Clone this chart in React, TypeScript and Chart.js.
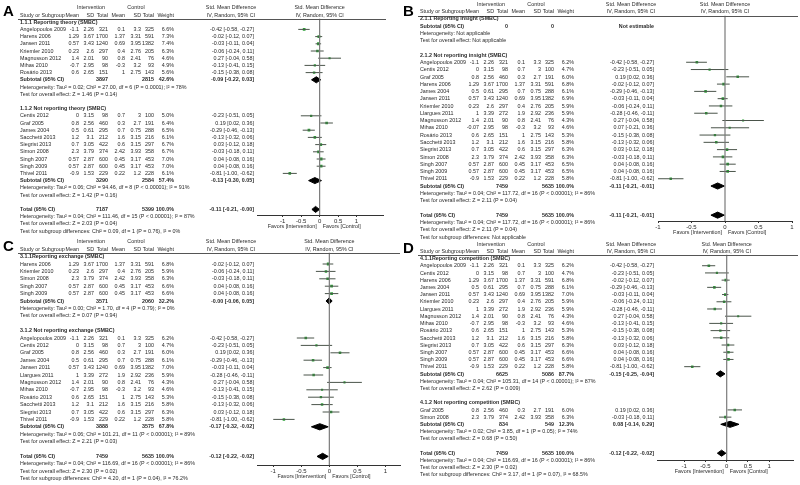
import React, { useEffect, useRef } from "react";
import { Chart, registerables } from "chart.js";
Chart.register(...registerables);

// name, meanI, sdI, totalI, meanC, sdC, totalC, weight, SMD, lower, upper
type Study = [string, string, string, string, string, string, string, string, number, number, number];
// totalI, totalC, weight, SMD, lower, upper
type Summary = [string, string, string, number | null, number | null, number | null];

// ---------------- Panel A : theory ----------------
const A_G1_TITLE = "1.1.1 Reporting theory (SMBC)";
const A_G1: Study[] = [
  ["Angelopoulos 2009", "-1.1", "2.26", "321", "0.1", "3.3", "325", "6.6%", -0.42, -0.58, -0.27],
  ["Harens 2006", "1.29", "3.67", "1700", "1.37", "3.31", "591", "7.3%", -0.02, -0.12, 0.07],
  ["Jansen 2011", "0.57", "3.43", "1240", "0.69", "3.95", "1382", "7.4%", -0.03, -0.11, 0.04],
  ["Kriemler 2010", "0.23", "2.6", "297", "0.4", "2.76", "205", "6.3%", -0.06, -0.24, 0.11],
  ["Magnusson 2012", "1.4", "2.01", "90", "0.8", "2.41", "76", "4.6%", 0.27, -0.04, 0.58],
  ["Mihas 2010", "-0.7", "2.95", "98", "-0.3", "3.2", "93", "4.9%", -0.13, -0.41, 0.15],
  ["Rosário 2013", "0.6", "2.65", "151", "1", "2.75", "143", "5.6%", -0.15, -0.38, 0.08],
];
const A_G1_SUB: Summary = ["3897", "2815", "42.6%", -0.09, -0.22, 0.03];
const A_G1_HET = "Heterogeneity: Tau² = 0.02; Chi² = 27.00, df = 6 (P = 0.0001); I² = 78%";
const A_G1_TEST = "Test for overall effect: Z = 1.46 (P = 0.14)";
const A_G2_TITLE = "1.1.2 Not reporting theory (SMBC)";
const A_G2: Study[] = [
  ["Centis 2012", "0", "3.15", "98", "0.7", "3", "100", "5.0%", -0.23, -0.51, 0.05],
  ["Graf 2005", "0.8", "2.56", "460", "0.3", "2.7", "191", "6.4%", 0.19, 0.02, 0.36],
  ["James 2004", "0.5", "0.61", "295", "0.7", "0.75", "288", "6.5%", -0.29, -0.46, -0.13],
  ["Sacchetti 2013", "1.2", "3.1", "212", "1.6", "3.15", "216", "6.1%", -0.13, -0.32, 0.06],
  ["Siegrist 2013", "0.7", "3.05", "422", "0.6", "3.15", "297", "6.7%", 0.03, -0.12, 0.18],
  ["Simon 2008", "2.3", "3.79", "374", "2.42", "3.93", "358", "6.7%", -0.03, -0.18, 0.11],
  ["Singh 2007", "0.57", "2.87", "600", "0.45", "3.17", "453", "7.0%", 0.04, -0.08, 0.16],
  ["Singh 2009", "0.57", "2.87", "600", "0.45", "3.17", "453", "7.0%", 0.04, -0.08, 0.16],
  ["Thivel 2011", "-0.9", "1.53", "229", "0.22", "1.2", "228", "6.1%", -0.81, -1.0, -0.62],
];
const A_G2_SUB: Summary = ["3290", "2584", "57.4%", -0.13, -0.3, 0.05];
const A_G2_HET = "Heterogeneity: Tau² = 0.06; Chi² = 94.46, df = 8 (P < 0.00001); I² = 91%";
const A_G2_TEST = "Test for overall effect: Z = 1.42 (P = 0.16)";
const A_TOTAL: Summary = ["7187", "5399", "100.0%", -0.11, -0.21, -0.004];
const A_TOTAL_HET = "Heterogeneity: Tau² = 0.04; Chi² = 111.46, df = 15 (P < 0.00001); I² = 87%";
const A_TOTAL_TEST = "Test for overall effect: Z = 2.03 (P = 0.04)";
const A_SUBGROUP = "Test for subgroup differences: Chi² = 0.09, df = 1 (P = 0.76), I² = 0%";

// ---------------- Panel B : insight ----------------
const B_G1_TITLE = "2.1.1 Reporting insight (SMBC)";
const B_G1: Study[] = [];
const B_G1_SUB: Summary = ["0", "0", "", null, null, null];
const B_G1_HET = "Heterogeneity: Not applicable";
const B_G1_TEST = "Test for overall effect: Not applicable";
const B_G2_TITLE = "2.1.2 Not reporting insight (SMBC)";
const B_G2: Study[] = [
  ["Angelopoulos 2009", "-1.1", "2.26", "321", "0.1", "3.3", "325", "6.2%", -0.42, -0.58, -0.27],
  ["Centis 2012", "0", "3.15", "98", "0.7", "3", "100", "4.7%", -0.23, -0.51, 0.05],
  ["Graf 2005", "0.8", "2.56", "460", "0.3", "2.7", "191", "6.0%", 0.19, 0.02, 0.36],
  ["Harens 2006", "1.29", "3.67", "1700", "1.37", "3.31", "591", "6.8%", -0.02, -0.12, 0.07],
  ["James 2004", "0.5", "0.61", "295", "0.7", "0.75", "288", "6.1%", -0.29, -0.46, -0.13],
  ["Jansen 2011", "0.57", "3.43", "1240", "0.69", "3.95", "1382", "6.9%", -0.03, -0.11, 0.04],
  ["Kriemler 2010", "0.23", "2.6", "297", "0.4", "2.76", "205", "5.9%", -0.06, -0.24, 0.11],
  ["Llargues 2011", "1", "3.39", "272", "1.9", "2.92", "236", "5.9%", -0.28, -0.46, -0.11],
  ["Magnusson 2012", "1.4", "2.01", "90", "0.8", "2.41", "76", "4.3%", 0.27, -0.04, 0.58],
  ["Mihas 2010", "-0.07", "2.95", "98", "-0.3", "3.2", "93", "4.6%", 0.07, -0.21, 0.36],
  ["Rosário 2013", "0.6", "2.65", "151", "1", "2.75", "143", "5.3%", -0.15, -0.38, 0.08],
  ["Sacchetti 2013", "1.2", "3.1", "212", "1.6", "3.15", "216", "5.8%", -0.13, -0.32, 0.06],
  ["Siegrist 2013", "0.7", "3.05", "422", "0.6", "3.15", "297", "6.3%", 0.03, -0.12, 0.18],
  ["Simon 2008", "2.3", "3.79", "374", "2.42", "3.93", "358", "6.3%", -0.03, -0.18, 0.11],
  ["Singh 2007", "0.57", "2.87", "600", "0.45", "3.17", "453", "6.5%", 0.04, -0.08, 0.16],
  ["Singh 2009", "0.57", "2.87", "600", "0.45", "3.17", "453", "6.5%", 0.04, -0.08, 0.16],
  ["Thivel 2011", "-0.9", "1.53", "229", "0.22", "1.2", "228", "5.8%", -0.81, -1.0, -0.62],
];
const B_G2_SUB: Summary = ["7459", "5635", "100.0%", -0.11, -0.21, -0.01];
const B_G2_HET = "Heterogeneity: Tau² = 0.04; Chi² = 117.72, df = 16 (P < 0.00001); I² = 86%";
const B_G2_TEST = "Test for overall effect: Z = 2.11 (P = 0.04)";
const B_TOTAL: Summary = ["7459", "5635", "100.0%", -0.11, -0.21, -0.01];
const B_TOTAL_HET = "Heterogeneity: Tau² = 0.04; Chi² = 117.72, df = 16 (P < 0.00001); I² = 86%";
const B_TOTAL_TEST = "Test for overall effect: Z = 2.11 (P = 0.04)";
const B_SUBGROUP = "Test for subgroup differences: Not applicable";

// ---------------- Panel C : exchange ----------------
const C_G1_TITLE = "3.1.1Reporting exchange (SMBC)";
const C_G1: Study[] = [
  ["Harens 2006", "1.29", "3.67", "1700", "1.37", "3.31", "591", "6.8%", -0.02, -0.12, 0.07],
  ["Kriemler 2010", "0.23", "2.6", "297", "0.4", "2.76", "205", "5.9%", -0.06, -0.24, 0.11],
  ["Simon 2008", "2.3", "3.79", "374", "2.42", "3.93", "358", "6.3%", -0.03, -0.18, 0.11],
  ["Singh 2007", "0.57", "2.87", "600", "0.45", "3.17", "453", "6.6%", 0.04, -0.08, 0.16],
  ["Singh 2009", "0.57", "2.87", "600", "0.45", "3.17", "453", "6.6%", 0.04, -0.08, 0.16],
];
const C_G1_SUB: Summary = ["3571", "2060", "32.2%", -0.004, -0.06, 0.05];
const C_G1_HET = "Heterogeneity: Tau² = 0.00; Chi² = 1.70, df = 4 (P = 0.79); I² = 0%";
const C_G1_TEST = "Test for overall effect: Z = 0.07 (P = 0.94)";
const C_G2_TITLE = "3.1.2 Not reporting exchange (SMBC)";
const C_G2: Study[] = [
  ["Angelopoulos 2009", "-1.1", "2.26", "321", "0.1", "3.3", "325", "6.2%", -0.42, -0.58, -0.27],
  ["Centis 2012", "0", "3.15", "98", "0.7", "3", "100", "4.7%", -0.23, -0.51, 0.05],
  ["Graf 2005", "0.8", "2.56", "460", "0.3", "2.7", "191", "6.0%", 0.19, 0.02, 0.36],
  ["James 2004", "0.5", "0.61", "295", "0.7", "0.75", "288", "6.1%", -0.29, -0.46, -0.13],
  ["Jansen 2011", "0.57", "3.43", "1240", "0.69", "3.95", "1382", "7.0%", -0.03, -0.11, 0.04],
  ["Llargues 2011", "1", "3.39", "272", "1.9", "2.92", "236", "5.9%", -0.28, -0.46, -0.11],
  ["Magnusson 2012", "1.4", "2.01", "90", "0.8", "2.41", "76", "4.3%", 0.27, -0.04, 0.58],
  ["Mihas 2010", "-0.7", "2.95", "98", "-0.3", "3.2", "93", "4.6%", -0.13, -0.41, 0.15],
  ["Rosário 2013", "0.6", "2.65", "151", "1", "2.75", "143", "5.3%", -0.15, -0.38, 0.08],
  ["Sacchetti 2013", "1.2", "3.1", "212", "1.6", "3.15", "216", "5.8%", -0.13, -0.32, 0.06],
  ["Siegrist 2013", "0.7", "3.05", "422", "0.6", "3.15", "297", "6.3%", 0.03, -0.12, 0.18],
  ["Thivel 2011", "-0.9", "1.53", "229", "0.22", "1.2", "228", "5.8%", -0.81, -1.0, -0.62],
];
const C_G2_SUB: Summary = ["3888", "3575", "67.8%", -0.17, -0.32, -0.02];
const C_G2_HET = "Heterogeneity: Tau² = 0.06; Chi² = 101.21, df = 11 (P < 0.00001); I² = 89%";
const C_G2_TEST = "Test for overall effect: Z = 2.21 (P = 0.03)";
const C_TOTAL: Summary = ["7459", "5635", "100.0%", -0.12, -0.22, -0.02];
const C_TOTAL_HET = "Heterogeneity: Tau² = 0.04; Chi² = 116.69, df = 16 (P < 0.00001); I² = 86%";
const C_TOTAL_TEST = "Test for overall effect: Z = 2.30 (P = 0.02)";
const C_SUBGROUP = "Test for subgroup differences: Chi² = 4.20, df = 1 (P = 0.04), I² = 76.2%";

// ---------------- Panel D : competition ----------------
const D_G1_TITLE = "4.1.1Reporting competition (SMBC)";
const D_G1: Study[] = [
  ["Angelopoulos 2009", "-1.1", "2.26", "321", "0.1", "3.3", "325", "6.2%", -0.42, -0.58, -0.27],
  ["Centis 2012", "0", "3.15", "98", "0.7", "3", "100", "4.7%", -0.23, -0.51, 0.05],
  ["Harens 2006", "1.29", "3.67", "1700", "1.37", "3.31", "591", "6.8%", -0.02, -0.12, 0.07],
  ["James 2004", "0.5", "0.61", "295", "0.7", "0.75", "288", "6.1%", -0.29, -0.46, -0.13],
  ["Jansen 2011", "0.57", "3.43", "1240", "0.69", "3.95", "1382", "7.0%", -0.03, -0.11, 0.04],
  ["Kriemler 2010", "0.23", "2.6", "297", "0.4", "2.76", "205", "5.9%", -0.06, -0.24, 0.11],
  ["Llargues 2011", "1", "3.39", "272", "1.9", "2.92", "236", "5.9%", -0.28, -0.46, -0.11],
  ["Magnusson 2012", "1.4", "2.01", "90", "0.8", "2.41", "76", "4.3%", 0.27, -0.04, 0.58],
  ["Mihas 2010", "-0.7", "2.95", "98", "-0.3", "3.2", "93", "4.6%", -0.13, -0.41, 0.15],
  ["Rosário 2013", "0.6", "2.65", "151", "1", "2.75", "143", "5.3%", -0.15, -0.38, 0.08],
  ["Sacchetti 2013", "1.2", "3.1", "212", "1.6", "3.15", "216", "5.8%", -0.13, -0.32, 0.06],
  ["Siegrist 2013", "0.7", "3.05", "422", "0.6", "3.15", "297", "6.3%", 0.03, -0.12, 0.18],
  ["Singh 2007", "0.57", "2.87", "600", "0.45", "3.17", "453", "6.6%", 0.04, -0.08, 0.16],
  ["Singh 2009", "0.57", "2.87", "600", "0.45", "3.17", "453", "6.6%", 0.04, -0.08, 0.16],
  ["Thivel 2011", "-0.9", "1.53", "229", "0.22", "1.2", "228", "5.8%", -0.81, -1.0, -0.62],
];
const D_G1_SUB: Summary = ["6625", "5086", "87.7%", -0.15, -0.25, -0.04];
const D_G1_HET = "Heterogeneity: Tau² = 0.04; Chi² = 105.31, df = 14 (P < 0.00001); I² = 87%";
const D_G1_TEST = "Test for overall effect: Z = 2.62 (P = 0.009)";
const D_G2_TITLE = "4.1.2 Not reporting competition (SMBC)";
const D_G2: Study[] = [
  ["Graf 2005", "0.8", "2.56", "460", "0.3", "2.7", "191", "6.0%", 0.19, 0.02, 0.36],
  ["Simon 2008", "2.3", "3.79", "374", "2.42", "3.93", "358", "6.3%", -0.03, -0.18, 0.11],
];
const D_G2_SUB: Summary = ["834", "549", "12.3%", 0.08, -0.14, 0.29];
const D_G2_HET = "Heterogeneity: Tau² = 0.02; Chi² = 3.85, df = 1 (P = 0.05); I² = 74%";
const D_G2_TEST = "Test for overall effect: Z = 0.68 (P = 0.50)";
const D_TOTAL: Summary = ["7459", "5635", "100.0%", -0.12, -0.22, -0.02];
const D_TOTAL_HET = "Heterogeneity: Tau² = 0.04; Chi² = 116.69, df = 16 (P < 0.00001); I² = 86%";
const D_TOTAL_TEST = "Test for overall effect: Z = 2.30 (P = 0.02)";
const D_SUBGROUP = "Test for subgroup differences: Chi² = 3.17, df = 1 (P = 0.07), I² = 68.5%";

const AXIS_TICKS = [-1, -0.5, 0, 0.5, 1];
const COL_HEADERS = ["Mean", "SD", "Total", "Mean", "SD", "Total", "Weight"];

// ---------------- layout / style ----------------
const W = 800;
const H = 485;
const FAMILY = "'Liberation Sans', Arial, sans-serif";
const FS = 6.1;
const SX = 0.88;
const TEXT = "#2a2a2a";
const NAME_X = 20;
const COL_R = [79, 94, 108, 125, 141, 154, 174];
const CI_R = 254;
const CI_C = 231;
const INT_C = 91;
const CTRL_C = 136;
const AXIS_H = 10;

type Group = { title: string; studies: Study[]; sub: Summary; het: string; test: string };
type Panel = {
  letter: string;
  groups: Group[];
  total: Summary;
  totalHet: string;
  totalTest: string;
  subgroup: string;
  x0: number;
  letterY: number;
  row0Y: number;
  rowH: number;
  lineY: number;
  lineR: number;
  axisY: number;
  xMin: number;
  xMax: number;
  plotL: number;
  plotR: number;
};

const PANELS: Panel[] = [
  {
    letter: "A",
    groups: [
      { title: A_G1_TITLE, studies: A_G1, sub: A_G1_SUB, het: A_G1_HET, test: A_G1_TEST },
      { title: A_G2_TITLE, studies: A_G2, sub: A_G2_SUB, het: A_G2_HET, test: A_G2_TEST },
    ],
    total: A_TOTAL, totalHet: A_TOTAL_HET, totalTest: A_TOTAL_TEST, subgroup: A_SUBGROUP,
    x0: 0, letterY: 4, row0Y: 15, rowH: 7.2, lineY: 18.5, lineR: 386, axisY: 215,
    xMin: -1.7, xMax: 1.72, plotL: 257, plotR: 383,
  },
  {
    letter: "B",
    groups: [
      { title: B_G1_TITLE, studies: B_G1, sub: B_G1_SUB, het: B_G1_HET, test: B_G1_TEST },
      { title: B_G2_TITLE, studies: B_G2, sub: B_G2_SUB, het: B_G2_HET, test: B_G2_TEST },
    ],
    total: B_TOTAL, totalHet: B_TOTAL_HET, totalTest: B_TOTAL_TEST, subgroup: B_SUBGROUP,
    x0: 400, letterY: 4, row0Y: 11.3, rowH: 7.28, lineY: 15.5, lineR: 798, axisY: 221,
    xMin: -1, xMax: 1, plotL: 658, plotR: 792,
  },
  {
    letter: "C",
    groups: [
      { title: C_G1_TITLE, studies: C_G1, sub: C_G1_SUB, het: C_G1_HET, test: C_G1_TEST },
      { title: C_G2_TITLE, studies: C_G2, sub: C_G2_SUB, het: C_G2_HET, test: C_G2_TEST },
    ],
    total: C_TOTAL, totalHet: C_TOTAL_HET, totalTest: C_TOTAL_TEST, subgroup: C_SUBGROUP,
    x0: 0, letterY: 239, row0Y: 249.2, rowH: 7.4, lineY: 252.5, lineR: 400, axisY: 465,
    xMin: -1.29, xMax: 1.26, plotL: 257, plotR: 400,
  },
  {
    letter: "D",
    groups: [
      { title: D_G1_TITLE, studies: D_G1, sub: D_G1_SUB, het: D_G1_HET, test: D_G1_TEST },
      { title: D_G2_TITLE, studies: D_G2, sub: D_G2_SUB, het: D_G2_HET, test: D_G2_TEST },
    ],
    total: D_TOTAL, totalHet: D_TOTAL_HET, totalTest: D_TOTAL_TEST, subgroup: D_SUBGROUP,
    x0: 400, letterY: 241, row0Y: 251.3, rowH: 7.21, lineY: 254.5, lineR: 798, axisY: 460,
    xMin: -1.64, xMax: 1.56, plotL: 657, plotR: 793,
  },
];

type Row =
  | { kind: "title"; r: number; text: string }
  | { kind: "study"; r: number; s: Study }
  | { kind: "sum"; r: number; label: string; sum: Summary }
  | { kind: "note"; r: number; text: string };

function buildRows(p: Panel): Row[] {
  const rows: Row[] = [];
  let r = 1;
  for (const g of p.groups) {
    rows.push({ kind: "title", r: r++, text: g.title });
    for (const s of g.studies) rows.push({ kind: "study", r: r++, s });
    rows.push({ kind: "sum", r: r++, label: "Subtotal (95% CI)", sum: g.sub });
    rows.push({ kind: "note", r: r++, text: g.het });
    rows.push({ kind: "note", r: r++, text: g.test });
    r++;
  }
  rows.push({ kind: "sum", r: r++, label: "Total (95% CI)", sum: p.total });
  rows.push({ kind: "note", r: r++, text: p.totalHet });
  rows.push({ kind: "note", r: r++, text: p.totalTest });
  rows.push({ kind: "note", r: r++, text: p.subgroup });
  return rows;
}

const f2 = (v: number) => v.toFixed(2);
const ciText = (e: number, lo: number, hi: number) => `${f2(e)} [${f2(lo)}, ${f2(hi)}]`;

function drawT(ctx: CanvasRenderingContext2D, text: string, x: number, y: number, align: CanvasTextAlign, bold = false, size = FS, sx = SX) {
  ctx.save();
  ctx.font = `${bold ? "bold " : ""}${size}px ${FAMILY}`;
  ctx.fillStyle = TEXT;
  ctx.textBaseline = "middle";
  ctx.textAlign = align;
  ctx.translate(x, y);
  ctx.scale(sx, 1);
  ctx.fillText(text, 0, 0);
  ctx.restore();
}

function tablePlugin(p: Panel, rows: Row[]) {
  return {
    id: "forestTable" + p.letter,
    afterDraw(chart: any) {
      const ctx: CanvasRenderingContext2D = chart.ctx;
      const ys = chart.scales.y;
      const xs = chart.scales.x;
      const ry = (r: number) => ys.getPixelForValue(r);
      const X = (v: number) => p.x0 + v;
      const zeroX = xs.getPixelForValue(0);

      // panel letter
      ctx.save();
      ctx.font = `bold 15px ${FAMILY}`;
      ctx.fillStyle = "#000";
      ctx.textBaseline = "top";
      ctx.textAlign = "left";
      ctx.fillText(p.letter, p.x0 + 3, p.letterY);
      ctx.restore();

      // header line
      ctx.save();
      ctx.strokeStyle = "#555";
      ctx.lineWidth = 1;
      ctx.beginPath();
      ctx.moveTo(X(18), Math.round(p.lineY) + 0.5);
      ctx.lineTo(p.lineR, Math.round(p.lineY) + 0.5);
      ctx.stroke();
      ctx.restore();

      // group headers
      const yg = ry(-1);
      drawT(ctx, "Intervention", X(INT_C), yg, "center");
      drawT(ctx, "Control", X(CTRL_C), yg, "center");
      drawT(ctx, "Std. Mean Difference", X(CI_C), yg, "center");
      drawT(ctx, "Std. Mean Difference", zeroX, yg, "center");
      const yh = ry(0);
      drawT(ctx, "Study or Subgroup", X(NAME_X), yh, "left");
      COL_HEADERS.forEach((h, i) => drawT(ctx, h, X(COL_R[i]), yh, "right"));
      drawT(ctx, "IV, Random, 95% CI", X(CI_C), yh, "center");
      drawT(ctx, "IV, Random, 95% CI", zeroX, yh, "center");

      for (const row of rows) {
        const y = ry(row.r);
        if (row.kind === "title") {
          drawT(ctx, row.text, X(NAME_X), y, "left", true);
        } else if (row.kind === "note") {
          drawT(ctx, row.text, X(NAME_X), y, "left");
        } else if (row.kind === "study") {
          const s = row.s;
          drawT(ctx, s[0], X(NAME_X), y, "left");
          for (let i = 0; i < 7; i++) drawT(ctx, s[i + 1] as string, X(COL_R[i]), y, "right");
          drawT(ctx, ciText(s[8], s[9], s[10]), X(CI_R), y, "right");
        } else {
          const m = row.sum;
          drawT(ctx, row.label, X(NAME_X), y, "left", true);
          drawT(ctx, m[0], X(COL_R[2]), y, "right", true);
          drawT(ctx, m[1], X(COL_R[5]), y, "right", true);
          if (m[2]) drawT(ctx, m[2], X(COL_R[6]), y, "right", true);
          const txt = m[3] === null ? "Not estimable" : ciText(m[3] as number, m[4] as number, m[5] as number);
          drawT(ctx, txt, X(CI_R), y, "right", true);
        }
      }

      // favours labels
      const fy = p.axisY + 11;
      drawT(ctx, "Favors [Intervention]", zeroX - 3, fy, "right");
      drawT(ctx, "Favors [Control]", zeroX + 3, fy, "left");
    },
  };
}

function makeConfig(p: Panel): any {
  const rows = buildRows(p);
  const yMin = (p.lineY - p.row0Y) / p.rowH;
  const yMax = (p.axisY - p.row0Y) / p.rowH;
  const studies = rows.filter((r) => r.kind === "study") as { kind: "study"; r: number; s: Study }[];
  const sums = rows.filter((r) => r.kind === "sum" && r.sum[3] !== null) as { kind: "sum"; r: number; label: string; sum: Summary }[];

  const datasets: any[] = [];
  datasets.push({
    type: "line",
    data: [{ x: 0, y: yMin }, { x: 0, y: yMax }],
    borderColor: "#7a7a7a",
    borderWidth: 1.2,
    pointRadius: 0,
    fill: false,
  });
  for (const st of studies) {
    datasets.push({
      type: "line",
      data: [{ x: st.s[9], y: st.r }, { x: st.s[10], y: st.r }],
      borderColor: "#4a544a",
      borderWidth: 1,
      pointRadius: 0,
      fill: false,
    });
  }
  datasets.push({
    type: "line",
    showLine: false,
    data: studies.map((st) => ({ x: st.s[8], y: st.r })),
    pointStyle: "rect",
    pointRadius: studies.map((st) => 0.6 + parseFloat(st.s[7]) * 0.2),
    pointBackgroundColor: "#2fa03a",
    pointBorderWidth: 0,
    borderColor: "#2fa03a",
  });
  for (const sm of sums) {
    const [, , , e, lo, hi] = sm.sum;
    datasets.push({
      type: "line",
      data: [
        { x: lo, y: sm.r },
        { x: e, y: sm.r - 0.42 },
        { x: hi, y: sm.r },
        { x: e, y: sm.r + 0.42 },
        { x: lo, y: sm.r },
      ],
      borderColor: "#000",
      borderWidth: 1,
      backgroundColor: "#000",
      pointRadius: 0,
      fill: "shape",
    });
  }

  return {
    type: "line",
    data: { datasets },
    options: {
      animation: false,
      responsive: false,
      events: [],
      layout: {
        padding: { left: p.plotL, right: W - p.plotR, top: p.lineY, bottom: H - p.axisY - AXIS_H },
      },
      plugins: { legend: { display: false }, tooltip: { enabled: false } },
      elements: { line: { tension: 0 } },
      scales: {
        x: {
          type: "linear",
          min: p.xMin,
          max: p.xMax,
          afterBuildTicks: (s: any) => {
            s.ticks = AXIS_TICKS.map((v) => ({ value: v }));
          },
          afterFit: (s: any) => {
            s.height = AXIS_H;
          },
          border: { display: true, color: "#333", width: 1 },
          grid: { drawOnChartArea: false, drawTicks: true, tickLength: 2, color: "#333" },
          ticks: {
            autoSkip: false,
            maxRotation: 0,
            padding: 1,
            color: "#2a2a2a",
            font: { size: 6, family: FAMILY },
            callback: (v: any) => String(v),
          },
        },
        y: { type: "linear", display: false, reverse: true, min: yMin, max: yMax },
      },
    },
    plugins: [tablePlugin(p, rows)],
  };
}

function ForestCanvas({ panel }: { panel: Panel }) {
  const ref = useRef<HTMLCanvasElement>(null);
  useEffect(() => {
    const chart = new Chart(ref.current as HTMLCanvasElement, makeConfig(panel));
    return () => chart.destroy();
  }, [panel]);
  return (
    <canvas
      ref={ref}
      width={W}
      height={H}
      style={{ position: "absolute", left: 0, top: 0, width: W, height: H }}
    />
  );
}

export default function App() {
  return (
    <div style={{ position: "fixed", left: 0, top: 0, width: W, height: H, background: "#fff", overflow: "hidden" }}>
      {PANELS.map((p) => (
        <ForestCanvas key={p.letter} panel={p} />
      ))}
    </div>
  );
}
